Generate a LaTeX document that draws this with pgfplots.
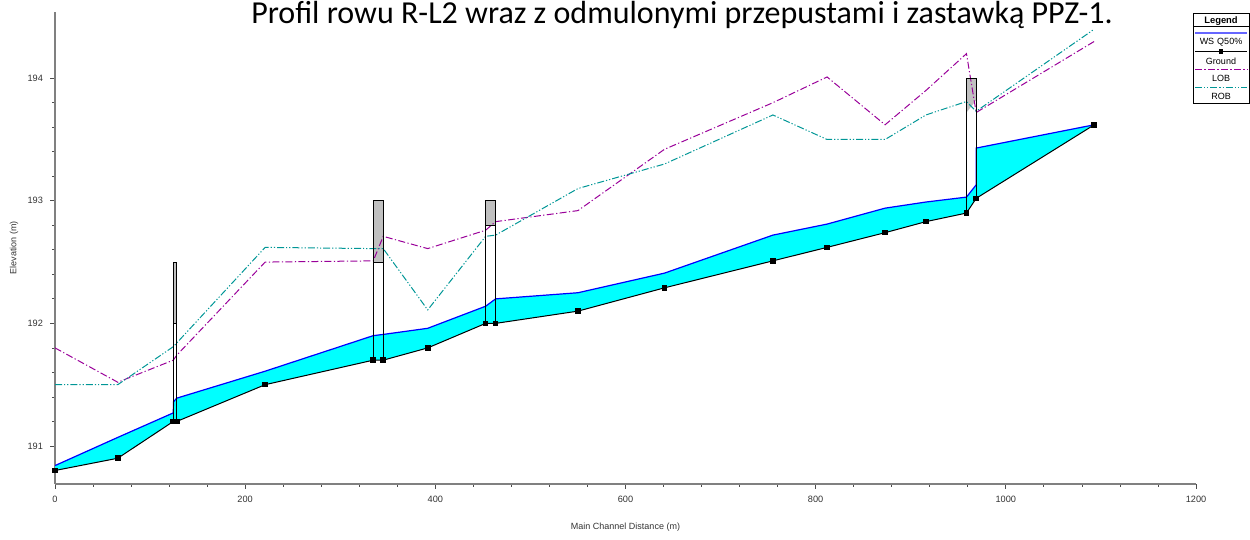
\documentclass[border=0pt]{standalone}
\usepackage{fontspec}
\setmainfont{Liberation Sans}
\newfontfamily\titlefont{Carlito}
\usepackage{pgfplots}
\pgfplotsset{compat=1.18}
\definecolor{lob}{RGB}{153,0,153}
\definecolor{rob}{RGB}{0,150,150}
\definecolor{axgray}{RGB}{128,128,128}
\definecolor{deck}{RGB}{192,192,192}
\definecolor{water}{RGB}{0,255,255}
\definecolor{wsblue}{RGB}{0,0,255}
\tikzset{
  lobdash/.style={dash pattern=on 3.5pt off 1.2pt on 0.6pt off 1.2pt},
  robdash/.style={dash pattern=on 3.5pt off 1pt on 0.6pt off 1pt on 0.6pt off 1pt},
}
\begin{document}
\begin{tikzpicture}
\path[use as bounding box] (0,0) rectangle (625pt,270pt);
\begin{axis}[
  at={(27.5pt,28pt)}, anchor=south west,
  scale only axis, width=570.5pt, height=236pt,
  xmin=0, xmax=1200, ymin=190.69, ymax=194.54,
  axis x line*=bottom, axis y line*=left,
  axis line style={axgray, line width=1pt, -},
  xtick={0,200,...,1200}, ytick={191,192,193,194},
  minor x tick num=4, minor y tick num=4,
  tick align=outside, major tick length=2.5pt, minor tick length=1.5pt,
  every tick/.style={black!70, line width=0.4pt},
  ticklabel style={font=\fontsize{4.6}{5}\selectfont, text=black!80},
  /pgf/number format/assume math mode=true,
  /pgf/number format/1000 sep={},
  xlabel={Main Channel Distance (m)}, ylabel={Elevation (m)},
  label style={font=\fontsize{4.5}{5}\selectfont, text=black!80},
  xlabel style={at={(axis description cs:0.5,-0.091)}, anchor=center},
  ylabel style={at={(axis description cs:-0.036,0.5)}, anchor=center},
]
% culverts: white body and grey deck
\addplot[fill=white, draw=none] coordinates {(124.4,191.2)(124.4,192.5)(128,192.5)(128,191.2)} -- cycle;
\addplot[fill=deck, draw=none] coordinates {(124.4,192.0)(124.4,192.5)(128,192.5)(128,192.0)} -- cycle;
\addplot[fill=white, draw=none] coordinates {(334.7,191.7)(334.7,193.0)(345.2,193.0)(345.2,191.7)} -- cycle;
\addplot[fill=deck, draw=none] coordinates {(334.7,192.5)(334.7,193.0)(345.2,193.0)(345.2,192.5)} -- cycle;
\addplot[fill=white, draw=none] coordinates {(452.9,192.0)(452.9,193.0)(463.4,193.0)(463.4,192.0)} -- cycle;
\addplot[fill=deck, draw=none] coordinates {(452.9,192.8)(452.9,193.0)(463.4,193.0)(463.4,192.8)} -- cycle;
\addplot[fill=white, draw=none] coordinates {(958.6,192.9)(958.6,194.0)(968.8,194.0)(968.8,193.02)} -- cycle;
\addplot[fill=deck, draw=none] coordinates {(958.6,193.72)(958.6,194.0)(968.8,194.0)(968.8,193.82)} -- cycle;
% water between WS and ground
\addplot[fill=water, draw=none] coordinates {
(0,190.84)(66,191.07)(124.4,191.27)(124.6,191.36)(128,191.39)(221,191.61)
(334.7,191.90)(345.2,191.91)(392,191.96)(452.9,192.14)(463.4,192.20)(550,192.25)
(641,192.41)(755,192.72)(812,192.81)(873,192.94)(916,192.99)(958.6,193.03)
(968.8,193.13)(968.8,193.43)(1093,193.62)
(1093,193.62)(968.8,193.02)(958.6,192.90)(916,192.83)(873,192.74)(812,192.62)
(755,192.51)(641,192.29)(550,192.10)(463.4,192.00)(452.9,192.00)(392,191.80)
(345.2,191.70)(334.7,191.70)(221,191.50)(128,191.20)(124.4,191.20)(66,190.90)(0,190.80)
} -- cycle;
% WS Q50%
\addplot[wsblue, line width=0.6pt] coordinates {
(0,190.84)(66,191.07)(124.4,191.27)(124.6,191.36)(128,191.39)(221,191.61)
(334.7,191.90)(345.2,191.91)(392,191.96)(452.9,192.14)(463.4,192.20)(550,192.25)
(641,192.41)(755,192.72)(812,192.81)(873,192.94)(916,192.99)(958.6,193.03)
(968.8,193.13)(968.8,193.43)(1093,193.62)
};
% LOB
\addplot[lob, line width=0.5pt, lobdash] coordinates {
(0,191.80)(66,191.52)(124.4,191.70)(128,191.74)(221,192.50)(334.7,192.51)
(345.2,192.71)(392,192.61)(452.9,192.76)(463.4,192.83)(550,192.92)(641,193.42)
(755,193.80)(812,194.01)(873,193.62)(916,193.90)(958.6,194.20)(968.8,193.72)(1093,194.30)
};
% ROB
\addplot[rob, line width=0.5pt, robdash] coordinates {
(0,191.50)(66,191.50)(124.4,191.81)(128,191.84)(221,192.62)(334.7,192.61)
(345.2,192.61)(392,192.11)(452.9,192.71)(463.4,192.72)(550,193.10)(641,193.30)
(755,193.70)(812,193.50)(873,193.50)(916,193.70)(958.6,193.81)(968.8,193.73)(1093,194.40)
};
% culvert outlines
\addplot[black, line width=0.5pt] coordinates {(124.4,191.2)(124.4,192.5)(128,192.5)(128,191.2)};
\addplot[black, line width=0.5pt] coordinates {(124.4,192.0)(128,192.0)};
\addplot[black, line width=0.5pt] coordinates {(334.7,191.7)(334.7,193.0)(345.2,193.0)(345.2,191.7)};
\addplot[black, line width=0.5pt] coordinates {(334.7,192.5)(345.2,192.5)};
\addplot[black, line width=0.5pt] coordinates {(452.9,192.0)(452.9,193.0)(463.4,193.0)(463.4,192.0)};
\addplot[black, line width=0.5pt] coordinates {(452.9,192.8)(463.4,192.8)};
\addplot[black, line width=0.5pt] coordinates {(958.6,192.9)(958.6,194.0)(968.8,194.0)(968.8,193.02)};
% Ground
\addplot[black, line width=0.5pt, mark=square*, mark size=1.15pt] coordinates {
(0,190.80)(66,190.90)(124.4,191.20)(128,191.20)(221,191.50)(334.7,191.70)
(345.2,191.70)(392,191.80)(452.9,192.00)(463.4,192.00)(550,192.10)(641,192.29)
(755,192.51)(812,192.62)(873,192.74)(916,192.83)(958.6,192.90)(968.8,193.02)(1093,193.62)
};
\end{axis}
% title
\node[anchor=base, font=\titlefont\fontsize{16}{18}\selectfont, inner sep=0pt] at (341pt,258.3pt)
  {Profil rowu R-L2 wraz z odmulonymi przepustami i zastawką PPZ-1.};
% legend box
\begin{scope}[font=\fontsize{4.5}{5}\selectfont]
\draw[black, line width=0.5pt] (596.5pt,218pt) rectangle (624.6pt,263pt);
\node[font=\fontsize{4.7}{5}\selectfont\bfseries] at (610.5pt,259.3pt) {Legend};
\draw[black, line width=0.4pt] (596.5pt,256.8pt) -- (624.6pt,256.8pt);
\draw[wsblue!60, line width=0.7pt] (597.5pt,253.5pt) -- (623.6pt,253.5pt);
\node at (610.5pt,248.7pt) {WS\,\,Q50\%};
\draw[black, line width=0.5pt] (597.5pt,244.2pt) -- (623.6pt,244.2pt);
\fill[black] (609.4pt,243.1pt) rectangle (611.6pt,245.3pt);
\node at (610.5pt,239.6pt) {Ground};
\draw[lob, line width=0.5pt, lobdash] (597.5pt,235pt) -- (623.6pt,235pt);
\node at (610.5pt,230.6pt) {LOB};
\draw[rob, line width=0.5pt, robdash] (597.5pt,226pt) -- (623.6pt,226pt);
\node at (610.5pt,221.6pt) {ROB};
\end{scope}
\end{tikzpicture}
\end{document}
